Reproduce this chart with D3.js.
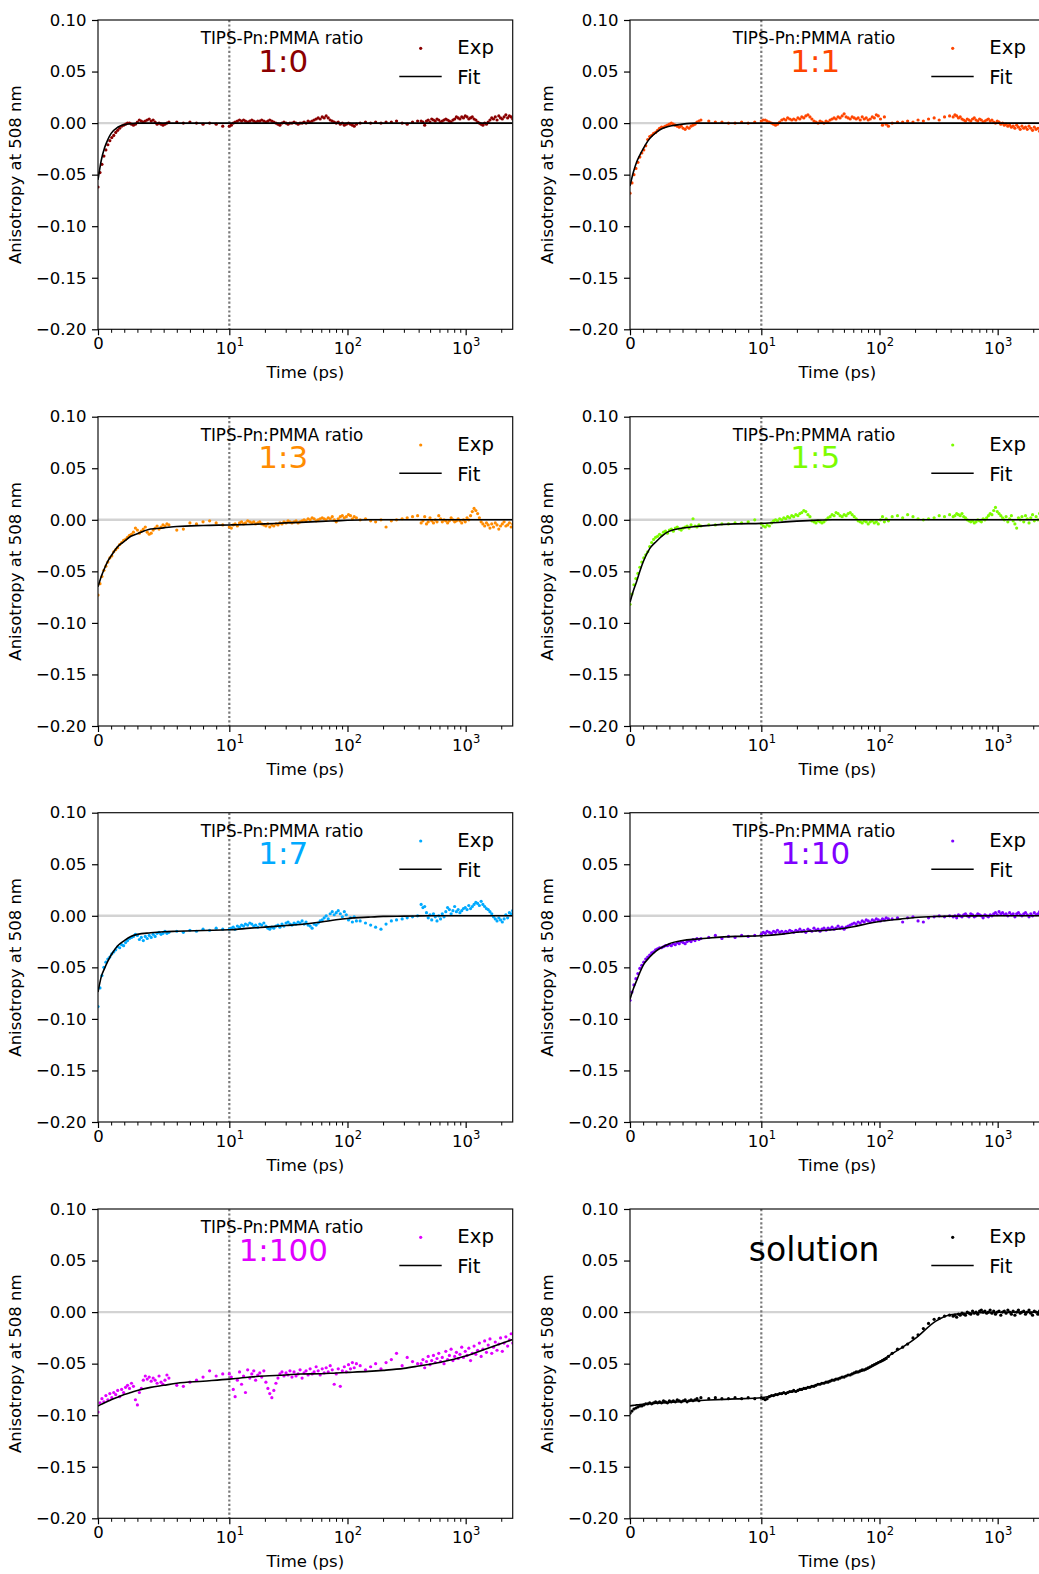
<!DOCTYPE html>
<html><head><meta charset="utf-8">
<script src="https://cdn.jsdelivr.net/npm/d3@7"></script>
<style>body{margin:0;background:#fff}svg{display:block}text{font-family:"DejaVu Sans",sans-serif}</style>
</head><body><svg id="c" width="1039" height="1574"></svg>
<script>
// ---- measurement time grid (ps), shared by all samples ----
const timePs = [
 0,.15,.3,.45,.6,.75,.9,1.05,1.2,1.35,1.5,1.65,1.8,1.95,2.1,2.25,2.4,2.55,2.7,2.85,3,3.15,3.3,3.45,3.6,3.75,3.9,4.05,4.2,4.35,4.5,4.65,4.8,4.95,5.1,5.25,5.4,
 6,6.5,7,7.5,8,8.5,9,9.5,
 10,10.4,10.8,11.2,11.7,12.2,12.7,13.2,13.7,14.3,14.9,15.5,16.1,16.7,17.4,18.1,
 18.8,19.6,20.4,21.2,22,22.9,23.8,24.8,25.8,26.8,27.9,29,30.2,31.4,32.6,33.9,
 35.3,36.7,38.2,39.7,41.3,42.9,44.6,46.4,48.3,50.2,52.2,54.3,56.5,58.7,61.1,63.5,
 66,68.7,71.4,74.3,77.2,80.3,83.5,86.9,90.4,94,97.7,102,106,110,114,119,
 128,142,157,173,192,212,235,260,290,320,355,392,
 420,435,450,466,482,499,516,534,553,572,
 592,613,634,656,679,703,728,753,780,807,
 835,864,894,926,958,992,1027,1063,1100,1138,
 1178,1219,1262,1306,1352,1399,1448,1499,1551,1605,
 1662,1720,1780,1842,1907,1973,2042,2114,2188,2265,2344,2426,2500
];
const fitTimePs = [0,.25,.5,.75,1,1.5,2,2.5,3,4,5,6,8,10,15,20,30,40,60,80,100,150,200,300,400,600,1000,1500,2500];

// ---- experimental anisotropy ----
const exp_1_0 = [
 -.062,-.048,-.040,-.032,-.026,-.021,-.017,-.014,-.012,-.009,-.007,-.005,-.003,-.002,-.001,.000,.000,-.001,-.002,-.001,.001,.003,.002,.001,.002,.003,.004,.002,.003,.001,-.001,.000,-.001,-.002,-.001,.000,.001,
 .001,.000,.001,.000,-.001,.000,-.001,-.003,
 -.003,-.002,.000,.001,.002,.003,.002,.003,.002,.001,.002,.003,.002,.001,.002,.002,
 .003,.002,.001,.002,.003,.002,.001,.000,-.001,-.002,.000,.001,.000,-.001,.000,.000,
 .001,.000,-.001,.000,.000,.001,.000,.002,.001,.002,.003,.004,.005,.004,.006,.005,
 .007,.005,.003,.002,.001,.000,.001,-.001,.000,-.002,-.001,.000,-.001,-.002,-.003,-.001,
 .000,.001,.000,.001,.000,.001,.001,.002,.000,-.001,.001,.002,
 .002,.001,-.002,.002,.003,.001,.004,.003,.002,.004,
 .003,.001,.002,.003,.004,.003,.002,.001,.003,.004,
 .006,.005,.004,.006,.005,.007,.006,.004,.005,.006,
 .004,.003,.001,.000,-.001,-.002,.000,-.001,.001,.003,
 .005,.004,.006,.003,.007,.005,.004,.006,.008,.005,.007,.006,.004
];
const exp_1_1 = [
 -.068,-.058,-.050,-.044,-.038,-.033,-.029,-.026,-.022,-.016,-.013,-.012,-.010,-.009,-.007,-.005,-.004,-.004,-.003,-.002,-.001,.000,-.001,-.002,-.003,-.004,-.003,-.005,-.006,-.004,-.005,-.003,-.002,-.001,.001,.002,.003,
 .002,.001,.001,.000,.000,.001,.000,.001,
 .002,.003,.003,.002,.001,.000,-.001,-.002,-.001,.001,.003,.004,.003,.005,.004,.003,
 .004,.003,.005,.004,.006,.005,.007,.008,.006,.004,.002,.001,.000,.002,.001,.000,
 .002,.001,.003,.004,.005,.004,.006,.005,.007,.009,.006,.005,.004,.006,.005,.004,
 .005,.003,.006,.004,.005,.003,.004,.006,.005,.008,.007,.004,-.002,.006,-.001,-.003,
 .000,.001,.001,.002,.001,.003,.002,.004,.005,.003,.006,.007,
 .006,.008,.007,.005,.006,.004,.003,.002,.004,.003,
 .002,.004,.005,.003,.002,.004,.003,.001,.002,.003,
 .004,.002,.003,.001,.000,.002,.001,-.001,.000,-.002,
 -.001,-.003,-.002,-.004,-.003,-.005,-.002,-.004,-.006,-.003,
 -.005,-.004,-.006,-.003,-.005,-.007,-.004,-.006,-.005,-.008,-.004,-.006,-.005
];
const exp_1_3 = [
 -.073,-.062,-.055,-.049,-.045,-.041,-.037,-.035,-.031,-.029,-.027,-.024,-.022,-.020,-.019,-.017,-.015,-.014,-.012,-.008,-.010,-.013,-.011,-.009,-.007,-.012,-.014,-.013,-.010,-.008,-.006,-.009,-.007,-.005,-.006,-.004,-.005,
 -.010,-.009,-.003,-.004,-.002,-.001,-.003,-.005,
 -.007,-.008,-.005,-.004,-.006,-.003,-.002,-.004,-.003,-.001,-.002,-.003,-.002,-.004,-.003,-.002,
 -.004,-.005,-.006,-.004,-.007,-.005,-.006,-.004,-.005,-.003,-.004,-.002,-.003,-.001,-.002,-.003,
 -.002,-.001,-.003,-.002,-.001,.000,-.001,.001,.000,.002,.001,-.001,.000,.001,.002,.001,
 .000,.002,.001,.003,.000,-.002,.001,.003,.004,.002,.003,.005,.004,.001,.003,.002,
 .000,.001,-.001,-.002,.000,-.007,-.001,.000,.001,.002,.003,.004,
 -.003,-.001,.003,-.004,-.002,.002,-.001,-.003,.000,-.002,
 .004,.001,-.002,.000,-.001,-.003,-.001,.002,.000,-.002,
 -.001,.001,-.001,-.003,.000,-.002,.002,.000,.004,.008,
 .011,.009,.006,.002,-.002,-.004,-.006,-.003,-.005,-.008,
 -.004,-.007,-.003,-.005,-.009,-.006,-.004,-.002,-.006,-.005,-.003,-.007,-.004
];
const exp_1_5 = [
 -.082,-.072,-.063,-.057,-.052,-.046,-.041,-.037,-.034,-.031,-.026,-.022,-.019,-.017,-.016,-.014,-.015,-.012,-.011,-.013,-.010,-.009,-.011,-.008,-.007,-.009,-.010,-.008,-.007,-.006,-.008,-.005,.001,-.006,-.007,-.005,-.006,
 -.005,-.005,-.004,-.004,-.003,-.003,-.002,.000,
 -.004,-.006,-.007,-.005,-.006,-.003,-.001,.000,-.001,.001,.000,.002,.001,.003,.002,.004,
 .003,.005,.004,.006,.007,.009,.008,.005,.003,-.001,-.002,-.003,-.001,-.002,-.003,-.002,
 .000,.002,.003,.005,.004,.007,.006,.004,.003,.005,.004,.006,.007,.005,.003,.001,
 -.001,-.002,-.003,-.001,-.002,-.004,-.002,-.001,-.003,-.002,-.004,.000,.003,-.002,.001,-.001,
 .003,.004,.002,.005,.003,.001,.000,.001,.002,.004,.003,.005,
 .003,.004,.006,.005,.004,.006,.003,.002,.000,-.001,
 -.002,-.001,-.003,-.002,.000,-.001,-.002,.001,.000,.002,
 .004,.006,.005,.009,.012,.008,.006,.004,.002,.000,
 .003,-.002,.001,.004,-.001,-.004,-.008,.002,.000,.003,
 -.002,.004,.001,-.003,.002,.005,-.001,.003,.000,.006,-.002,.004,.012
];
const exp_1_7 = [
 -.088,-.070,-.058,-.050,-.045,-.042,-.040,-.037,-.035,-.033,-.030,-.031,-.028,-.029,-.026,-.024,-.022,-.021,-.020,-.018,-.019,-.023,-.021,-.024,-.020,-.022,-.019,-.021,-.018,-.020,-.017,-.016,-.018,-.017,-.015,-.017,-.016,
 -.015,-.016,-.014,-.015,-.013,-.014,-.012,-.013,
 -.013,-.012,-.011,-.013,-.010,-.011,-.009,-.010,-.008,-.009,-.007,-.008,-.010,-.009,-.011,-.008,
 -.009,-.007,-.010,-.012,-.013,-.011,-.012,-.010,-.009,-.011,-.008,-.010,-.007,-.006,-.008,-.009,
 -.007,-.008,-.006,-.007,-.005,-.008,-.006,-.009,-.010,-.012,-.008,-.009,-.007,-.005,-.004,-.002,
 .000,-.003,.002,.004,.001,.003,.005,.002,-.001,.004,.001,-.004,-.002,-.006,-.001,-.005,
 -.005,-.007,-.009,-.011,-.013,-.008,-.005,-.004,-.003,-.002,-.001,.000,
 .011,.008,.009,.003,-.002,.001,-.004,.002,-.001,-.005,
 .000,-.003,.002,-.001,.004,.008,.006,.002,.005,.009,
 .004,.006,.003,.005,.007,.008,.006,.010,.007,.009,
 .011,.013,.012,.010,.014,.011,.009,.007,.006,.004,
 .002,-.001,-.003,-.005,-.002,-.004,-.006,-.003,.001,-.002,.003,.002,.005
];
const exp_1_10 = [
 -.082,-.074,-.067,-.061,-.056,-.051,-.048,-.045,-.042,-.040,-.038,-.036,-.035,-.033,-.032,-.031,-.031,-.030,-.029,-.029,-.028,-.029,-.027,-.028,-.026,-.027,-.025,-.026,-.027,-.025,-.024,-.025,-.023,-.024,-.022,-.023,-.022,
 -.021,-.019,-.022,-.020,-.021,-.019,-.020,-.019,
 -.018,-.016,-.017,-.015,-.016,-.017,-.015,-.016,-.014,-.016,-.015,-.017,-.015,-.016,-.014,-.015,
 -.016,-.014,-.015,-.013,-.015,-.014,-.016,-.013,-.014,-.015,-.012,-.014,-.013,-.015,-.013,-.012,
 -.014,-.012,-.013,-.011,-.013,-.012,-.010,-.012,-.011,-.013,-.011,-.010,-.009,-.008,-.007,-.008,
 -.006,-.007,-.005,-.006,-.004,-.005,-.006,-.004,-.005,-.003,-.004,-.005,-.003,-.004,-.002,-.003,
 -.003,-.002,-.006,-.002,-.001,-.005,-.006,-.002,-.001,.000,-.001,.000,
 -.001,.000,-.002,.001,.000,-.001,.001,.002,.000,-.001,
 .002,.001,-.001,.000,.002,.001,.000,-.002,.001,.000,
 -.001,.001,.000,.002,.003,.001,.004,.002,.003,.001,
 .002,.000,.003,.001,.002,-.001,.002,.003,.001,.000,
 .002,.003,.001,-.001,.002,.000,.003,.001,.002,.004,.005,.001,.002
];
const exp_1_100 = [
 -.097,-.088,-.084,-.087,-.081,-.085,-.079,-.083,-.078,-.080,-.076,-.082,-.075,-.078,-.073,-.071,-.074,-.069,-.072,-.085,-.090,-.078,-.074,-.066,-.062,-.065,-.063,-.067,-.064,-.066,-.069,-.062,-.068,-.070,-.066,-.061,-.064,
 -.071,-.072,-.068,-.066,-.063,-.057,-.062,-.060,
 -.060,-.063,-.075,-.082,-.066,-.058,-.070,-.062,-.078,-.056,-.064,-.060,-.057,-.066,-.061,-.059,
 -.063,-.057,-.068,-.074,-.079,-.083,-.076,-.069,-.064,-.060,-.058,-.062,-.059,-.061,-.057,-.063,
 -.058,-.062,-.060,-.056,-.064,-.059,-.057,-.061,-.055,-.060,-.058,-.053,-.057,-.061,-.055,-.059,
 -.054,-.058,-.052,-.056,-.070,-.060,-.055,-.072,-.057,-.053,-.058,-.051,-.055,-.049,-.054,-.050,
 -.052,-.056,-.053,-.050,-.055,-.049,-.046,-.040,-.052,-.044,-.048,-.050,
 -.050,-.046,-.054,-.048,-.043,-.051,-.047,-.042,-.049,-.045,
 -.040,-.048,-.044,-.050,-.038,-.046,-.042,-.036,-.047,-.043,
 -.039,-.045,-.041,-.034,-.044,-.038,-.042,-.035,-.047,-.040,
 -.033,-.041,-.037,-.030,-.043,-.036,-.028,-.039,-.032,-.026,
 -.040,-.034,-.029,-.037,-.031,-.025,-.038,-.030,-.024,-.033,-.027,-.021,-.030
];
const exp_solution = [
 -.098,-.096,-.094,-.093,-.092,-.091,-.091,-.090,-.089,-.089,-.088,-.089,-.088,-.087,-.088,-.087,-.088,-.086,-.087,-.088,-.086,-.087,-.086,-.087,-.085,-.086,-.087,-.086,-.085,-.087,-.086,-.085,-.086,-.085,-.084,-.086,-.083,
 -.084,-.083,-.084,-.084,-.083,-.084,-.083,-.084,
 -.083,-.084,-.085,-.084,-.082,-.081,-.081,-.080,-.080,-.079,-.079,-.078,-.079,-.078,-.077,-.077,
 -.076,-.077,-.076,-.075,-.075,-.074,-.074,-.073,-.073,-.072,-.072,-.071,-.070,-.070,-.069,-.069,
 -.068,-.068,-.067,-.066,-.066,-.065,-.065,-.064,-.063,-.063,-.062,-.061,-.061,-.060,-.059,-.058,
 -.058,-.057,-.056,-.056,-.055,-.054,-.053,-.052,-.051,-.050,-.049,-.048,-.047,-.046,-.045,-.043,
 -.040,-.036,-.034,-.031,-.025,-.022,-.016,-.011,-.007,-.006,-.004,-.003,
 -.004,-.003,-.005,-.002,-.003,-.001,-.002,-.003,.000,-.001,
 -.002,.001,-.001,.000,-.002,.001,.002,.000,.001,-.001,
 .000,.002,-.001,.001,-.002,.000,.001,-.003,.000,.001,
 -.001,.002,.000,-.002,.001,-.003,.000,.002,-.001,.000,
 .001,-.002,.000,.002,-.001,-.003,.001,.000,-.002,.001,-.001,.000,-.002
];

// ---- fitted anisotropy at fitTimePs ----
const fit_1_0 = [-.055,-.036,-.024,-.016,-.010,-.004,-.0015,-.0005,0,0,0,0,0,0,0,0,0,0,0,0,0,0,0,0,0,0,0,0,0];
const fit_1_1 = [-.061,-.048,-.038,-.031,-.025,-.015,-.009,-.005,-.003,-.001,0,0,0,0,0,0,0,0,0,0,0,0,0,0,0,0,0,0,0];
const fit_1_3 = [-.065,-.055,-.047,-.040,-.035,-.026,-.021,-.016,-.0135,-.009,-.0078,-.0065,-.0055,-.005,-.0045,-.004,-.003,-.0025,-.0015,-.001,-.0005,0,0,0,0,0,0,0,0];
const fit_1_5 = [-.080,-.069,-.060,-.050,-.041,-.028,-.021,-.015,-.011,-.008,-.0065,-.0055,-.004,-.0035,-.0023,-.0013,-.0003,0,0,0,0,0,0,0,0,0,0,0,0];
const fit_1_7 = [-.074,-.059,-.051,-.044,-.038,-.029,-.024,-.020,-.018,-.0165,-.0155,-.015,-.0142,-.0136,-.012,-.011,-.0094,-.0084,-.006,-.0039,-.0026,-.0013,-.0006,-.0003,-.0001,0,0,0,0];
const fit_1_10 = [-.081,-.071,-.063,-.055,-.048,-.040,-.034,-.030,-.027,-.024,-.0226,-.0216,-.020,-.0194,-.0178,-.016,-.0145,-.0136,-.0107,-.0074,-.0055,-.0032,-.0016,-.0006,-.0003,-.0001,0,0,0];
const fit_1_100 = [-.091,-.0895,-.088,-.0865,-.085,-.0825,-.080,-.078,-.076,-.073,-.071,-.069,-.067,-.065,-.063,-.062,-.061,-.060,-.0598,-.059,-.0585,-.0575,-.0565,-.0546,-.0523,-.0488,-.0426,-.0355,-.0265];
const fit_solution = [-.091,-.0905,-.090,-.0897,-.0894,-.0889,-.0884,-.088,-.0876,-.0868,-.086,-.0853,-.0842,-.083,-.079,-.0765,-.070,-.066,-.0596,-.055,-.048,-.0355,-.0258,-.0087,-.0026,-.0008,-.0002,0,0];

const sampleLabels = ['1:0','1:1','1:3','1:5','1:7','1:10','1:100','solution'];
const sampleColors = ['#8b0000','#ff4500','#ff8c00','#7cfc00','#00aaff','#7f00ff','#e100ff','#000000'];
const expSeries = [exp_1_0,exp_1_1,exp_1_3,exp_1_5,exp_1_7,exp_1_10,exp_1_100,exp_solution];
const fitSeries = [fit_1_0,fit_1_1,fit_1_3,fit_1_5,fit_1_7,fit_1_10,fit_1_100,fit_solution];
const yTicks = [-0.20,-0.15,-0.10,-0.05,0.00,0.05,0.10];
const xMajorTicks = [0,10,100,1000];
const xMinorTicks = [1,2,3,4,5,6,7,8,9,20,30,40,50,60,70,80,90,200,300,400,500,600,700,800,900,2000];

// ---- layout ----
const svg = d3.select('#c');
svg.append('rect').attr('width',1039).attr('height',1574).attr('fill','#fff');
const W = 414.7, H = 309.3;
const colX = [98, 630], rowY = [20, 416.7, 812.7, 1209];
const LINSCALE = 1/(1-1/10), LINTHRESH = 10;
const symT = t => Math.abs(t) <= LINTHRESH ? (t/LINTHRESH)*LINSCALE : LINSCALE + Math.log10(t/LINTHRESH);
function makeX(x0){
  const lin = d3.scaleLinear().domain([symT(0), symT(2500)]).range([x0, x0+W]);
  const s = t => lin(symT(t));
  s.domain = () => [0,2500];
  s.range = () => lin.range();
  s.copy = () => s;
  return s;
}
const FS = 16.5;

sampleLabels.forEach((lab, i) => {
  const x0 = colX[i%2], top = rowY[Math.floor(i/2)];
  const x = makeX(x0);
  const y = d3.scaleLinear().domain([-0.2,0.1]).range([top+H, top]);
  const g = svg.append('g');
  const cid = 'clip'+i;
  g.append('clipPath').attr('id',cid).append('rect').attr('x',x0).attr('y',top).attr('width',W).attr('height',H);
  const plot = g.append('g').attr('clip-path',`url(#${cid})`);
  plot.append('line').attr('x1',x0).attr('x2',x0+W).attr('y1',y(0)).attr('y2',y(0))
    .attr('stroke','#d3d3d3').attr('stroke-width',2.4);
  plot.append('line').attr('x1',x(10)).attr('x2',x(10)).attr('y1',top).attr('y2',top+H)
    .attr('stroke','#7a7a7a').attr('stroke-width',2.2).attr('stroke-dasharray','2.2,2.2');
  const ex = expSeries[i];
  const pts = timePs.map((t,k)=>({t, v: ex[k]})).filter(d => d.v !== undefined);
  plot.selectAll('circle.e').data(pts).join('circle').attr('class','e')
    .attr('cx', d => x(d.t)).attr('cy', d => y(d.v)).attr('r',1.6).attr('fill', sampleColors[i]);
  const fp = fitTimePs.map((t,k)=>({t, v: fitSeries[i][k]}));
  plot.append('path').datum(fp).attr('fill','none').attr('stroke','#000').attr('stroke-width',1.6)
    .attr('d', d3.line().x(d=>x(d.t)).y(d=>y(d.v)).curve(d3.curveMonotoneX));
  // frame
  g.append('rect').attr('x',x0).attr('y',top).attr('width',W).attr('height',H)
    .attr('fill','none').attr('stroke','#111').attr('stroke-width',1.2);
  // y axis
  const ya = g.append('g').attr('transform',`translate(${x0},0)`)
    .call(d3.axisLeft(y).tickValues(yTicks).tickSize(6).tickPadding(5.5).tickFormat(d3.format('.2f')));
  ya.select('.domain').remove();
  ya.selectAll('line').attr('stroke','#000').attr('stroke-width',1.2);
  ya.selectAll('text').attr('font-size',FS).attr('font-family','DejaVu Sans').attr('fill','#000');
  // x axis minor
  const xm = g.append('g').attr('transform',`translate(0,${top+H})`)
    .call(d3.axisBottom(x).tickValues(xMinorTicks).tickSize(3.5).tickFormat(''));
  xm.select('.domain').remove();
  xm.selectAll('line').attr('stroke','#000').attr('stroke-width',1);
  // x axis major
  const xa = g.append('g').attr('transform',`translate(0,${top+H})`)
    .call(d3.axisBottom(x).tickValues(xMajorTicks).tickSize(6).tickFormat(d => d===0 ? '0' : ''));
  xa.select('.domain').remove();
  xa.selectAll('line').attr('stroke','#000').attr('stroke-width',1.2);
  xa.selectAll('.tick text').each(function(d){
    const t = d3.select(this).attr('font-size',FS).attr('font-family','DejaVu Sans').attr('fill','#000');
    if (d === 0) { t.attr('y',20).attr('dy',null); }
    else {
      t.text(null).attr('y',24.7).attr('dy',null);
      t.append('tspan').text('10');
      t.append('tspan').attr('font-size',11.5).attr('dy',-8).text(String(Math.round(Math.log10(d))));
    }
  });
  // axis labels
  g.append('text').attr('x',x0+W/2).attr('y',top+H+49).attr('text-anchor','middle')
    .attr('font-size',FS).text('Time (ps)');
  g.append('text').attr('transform',`translate(${x0-76.8},${top+H/2}) rotate(-90)`).attr('text-anchor','middle')
    .attr('font-size',FS).text('Anisotropy at 508 nm');
  // annotation
  if (lab === 'solution') {
    g.append('text').attr('x',x0+184.2).attr('y',top+52).attr('text-anchor','middle')
      .attr('font-size',33).attr('fill','#000').text('solution');
  } else {
    g.append('text').attr('x',x0+184).attr('y',top+24).attr('text-anchor','middle')
      .attr('font-size',16.8).attr('fill','#000').text('TIPS-Pn:PMMA ratio');
    g.append('text').attr('x',x0+185.3).attr('y',top+51.7).attr('text-anchor','middle')
      .attr('font-size',31).attr('fill',sampleColors[i]).text(lab);
  }
  // legend
  g.append('circle').attr('cx',x0+322.7).attr('cy',top+28.3).attr('r',1.6).attr('fill',sampleColors[i]);
  g.append('text').attr('x',x0+359.3).attr('y',top+34).attr('font-size',19.7).text('Exp');
  g.append('line').attr('x1',x0+301.3).attr('x2',x0+343.7).attr('y1',top+56.5).attr('y2',top+56.5)
    .attr('stroke','#000').attr('stroke-width',1.6);
  g.append('text').attr('x',x0+359.3).attr('y',top+64).attr('font-size',19.7).text('Fit');
});
</script></body></html>
